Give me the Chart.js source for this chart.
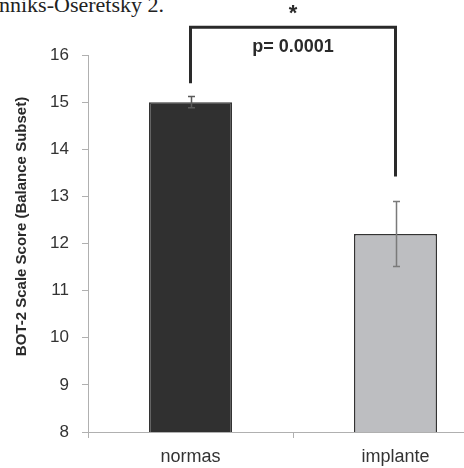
<!DOCTYPE html>
<html>
<head>
<meta charset="utf-8">
<script src="https://cdn.jsdelivr.net/npm/chart.js@4"></script>
<style>
  html, body { margin: 0; padding: 0; background: #fff; overflow: hidden; }
  body { width: 464px; height: 468px; position: relative; }
  #caption {
    position: absolute; left: -1px; top: -6px;
    font: 22px "Liberation Serif", "Times New Roman", serif;
    line-height: 21px; color: #222; white-space: nowrap;
  }
  #chart { position: absolute; left: 0; top: 0; }
</style>
</head>
<body>
<div id="caption">nniks-Oseretsky 2.</div>
<canvas id="chart" width="520" height="468"></canvas>
<script>
// groups and values
const groups = ['normas', 'implante'];
const means = [15.0, 12.2];
const errors = [0.12, 0.69];
const barColors = ['#303030', '#bdbec1'];
const whiskerColors = ['#5a5a5a', '#7a7a7a'];

// y axis
const yMin = 8;
const yMax = 16;
const yStep = 1;
const yTitle = 'BOT-2 Scale Score (Balance Subset)';

// significance bracket (in score units)
const bracketTop = 16.59;
const bracketEnds = [15.4, 13.42];
const pLabel = 'p= 0.0001';
const pLabelAt = 16.16;
const starLabel = '*';
const starAt = 16.88;

const FONT = 'Arial, "Liberation Sans", sans-serif';

/**
 * Draws error bars, the significance bracket and the y title
 */
const extrasPlugin = {
  id: 'extras',
  afterDatasetsDraw(chart) {
    const ctx = chart.ctx;
    const y = chart.scales.y;
    const meta = chart.getDatasetMeta(0);
    const area = chart.chartArea;

    ctx.save();
    // error bars
    meta.data.forEach((bar, i) => {
      const x = Math.round(bar.x) + 0.5;
      const hi = y.getPixelForValue(means[i] + errors[i]);
      const lo = y.getPixelForValue(means[i] - errors[i]);
      ctx.strokeStyle = whiskerColors[i];
      ctx.lineWidth = 1.5;
      ctx.beginPath();
      ctx.moveTo(x, hi); ctx.lineTo(x, lo);
      ctx.moveTo(x - 3.5, hi); ctx.lineTo(x + 3.5, hi);
      ctx.moveTo(x - 3.5, lo); ctx.lineTo(x + 3.5, lo);
      ctx.stroke();
    });

    // bracket
    const x0 = meta.data[0].x;
    const x1 = meta.data[1].x;
    const top = y.getPixelForValue(bracketTop);
    ctx.strokeStyle = '#2a2a2a';
    ctx.lineWidth = 3;
    ctx.beginPath();
    ctx.moveTo(x0, y.getPixelForValue(bracketEnds[0]));
    ctx.lineTo(x0, top);
    ctx.lineTo(x1, top);
    ctx.lineTo(x1, y.getPixelForValue(bracketEnds[1]));
    ctx.stroke();

    // labels
    const mid = (x0 + x1) / 2;
    ctx.fillStyle = '#2a2a2a';
    ctx.textAlign = 'center';
    ctx.textBaseline = 'middle';
    ctx.font = 'bold 18px ' + FONT;
    ctx.fillText(pLabel, mid, y.getPixelForValue(pLabelAt));
    ctx.font = 'bold 22px ' + FONT;
    ctx.fillText(starLabel, mid, y.getPixelForValue(starAt));

    // y title, sits a little above the middle of the plot in the original
    ctx.translate(area.left - 66, (area.top + area.bottom) / 2 - 17);
    ctx.rotate(-Math.PI / 2);
    ctx.font = 'bold 15px ' + FONT;
    ctx.fillText(yTitle, 0, 0);
    ctx.restore();
  }
};

new Chart(document.getElementById('chart'), {
  type: 'bar',
  data: {
    labels: groups,
    datasets: [{
      data: means,
      backgroundColor: barColors,
      borderColor: '#333333',
      borderWidth: 1.5,
      borderSkipped: false,
      categoryPercentage: 1,
      barPercentage: 0.405
    }]
  },
  options: {
    responsive: false,
    animation: false,
    devicePixelRatio: 1,
    layout: { padding: { top: 55, right: 22, bottom: 0, left: 0 } },
    plugins: {
      legend: { display: false },
      tooltip: { enabled: false }
    },
    scales: {
      x: {
        afterFit(scale) { scale.height = 36; },
        grid: { drawOnChartArea: false, tickLength: 6, color: '#b0b0b0' },
        border: { color: '#b0b0b0', width: 1 },
        ticks: { color: '#333', padding: 8, font: { family: FONT, size: 18 } }
      },
      y: {
        min: yMin,
        max: yMax,
        afterFit(scale) { scale.width = 88; },
        grid: { drawOnChartArea: false, tickLength: 6, color: '#b0b0b0' },
        border: { color: '#b0b0b0', width: 1 },
        ticks: {
          stepSize: yStep,
          color: '#333',
          padding: 13,
          font: { family: FONT, size: 17 }
        }
      }
    }
  },
  plugins: [extrasPlugin]
});
</script>
</body>
</html>
